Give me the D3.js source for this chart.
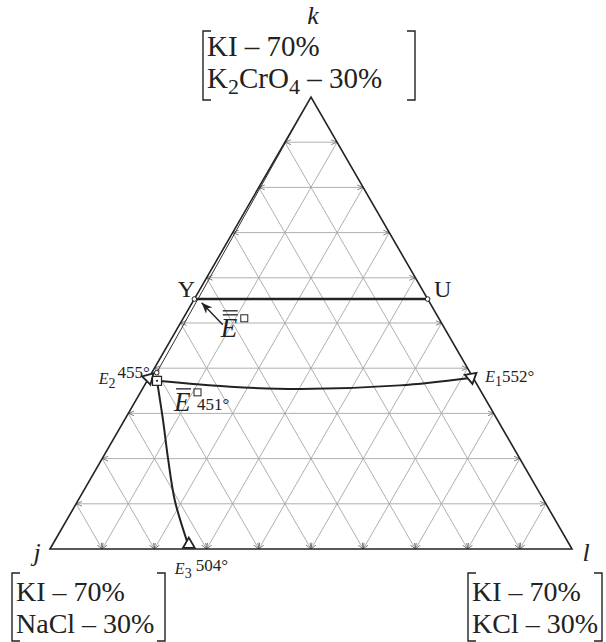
<!DOCTYPE html>
<html>
<head>
<meta charset="utf-8">
<script src="https://cdn.jsdelivr.net/npm/d3@7"></script>
<style>
  body { margin: 0; background: #fff; }
  svg text { font-family: "Liberation Serif", "DejaVu Serif", serif; fill: #222; }
</style>
</head>
<body>
<svg width="606" height="642"></svg>
<script>
// ternary values are [k, l] fractions, j = 1 - k - l
var gridLevels = [0.1, 0.2, 0.3, 0.4, 0.5, 0.6, 0.7, 0.8, 0.9];
var lineYU = [[0.553, 0], [0.553, 0.447]];
var innerEdge = [[1, 0], [0.39, 0.0094]];
var curveToE1 = [[0.372, 0.019], [0.359, 0.166], [0.354, 0.302], [0.362, 0.489], [0.378, 0.612]];
var curveToE3 = [[0.372, 0.019], [0.285, 0.074], [0.197, 0.128], [0.108, 0.185], [0.012, 0.258]];
var pointE1 = [0.38, 0.617];
var pointE2 = [0.378, 0];
var pointE3 = [0.008, 0.262];
var pointEbar = [0.372, 0.019];
var arrowEbb = [[0.496, 0.083], [0.545, 0.018]];
var cornerNames = ["j", "k", "l"];
var cornerMix = [["KI \u2013 70%", "NaCl \u2013 30%"], ["KI \u2013 70%", "K|2|CrO|4| \u2013 30%"], ["KI \u2013 70%", "KCl \u2013 30%"]];
var eutectics = [["2", "455\u00b0"], ["1", "552\u00b0"], ["3", "504\u00b0"]];

var svg = d3.select("svg");

var x = d3.scaleLinear().domain([0, 1]).range([50, 572]),
    y = d3.scaleLinear().domain([0, 1]).range([549, 97]);

function px(p) { return x(p[1] + p[0] / 2); }
function py(p) { return y(p[0]); }

var defs = svg.append("defs");
defs.append("marker")
    .attr("id", "tip")
    .attr("viewBox", "0 0 10 10")
    .attr("refX", 10).attr("refY", 5)
    .attr("markerWidth", 6).attr("markerHeight", 6)
    .attr("markerUnits", "userSpaceOnUse")
    .attr("orient", "auto-start-reverse")
    .append("path")
    .attr("d", "M0,1 L10,5 L0,9")
    .attr("fill", "none")
    .attr("stroke", "#555")
    .attr("stroke-width", 1.2);
defs.append("marker")
    .attr("id", "head")
    .attr("viewBox", "0 0 10 10")
    .attr("refX", 10).attr("refY", 5)
    .attr("markerWidth", 11).attr("markerHeight", 11)
    .attr("markerUnits", "userSpaceOnUse")
    .attr("orient", "auto")
    .append("path")
    .attr("d", "M0,1 L10,5 L0,9 L3,5 Z")
    .attr("fill", "#222");

var line = d3.line().x(px).y(py);
var curve = d3.line().x(px).y(py).curve(d3.curveCatmullRom);

// grid
var grid = svg.append("g").attr("stroke", "#a6a6a6").attr("stroke-width", 0.9).attr("fill", "none");
gridLevels.forEach(function(v) {
    // constant k (horizontal), arrows on both ends
    grid.append("path").attr("d", line([[v, 0], [v, 1 - v]]))
        .attr("marker-start", "url(#tip)").attr("marker-end", "url(#tip)");
    // constant l, arrow at bottom
    grid.append("path").attr("d", line([[1 - v, v], [0, v]]))
        .attr("marker-end", "url(#tip)");
    // constant j, arrow at bottom
    grid.append("path").attr("d", line([[1 - v, 0], [0, 1 - v]]))
        .attr("marker-end", "url(#tip)");
});

// triangle outline
svg.append("path")
    .attr("d", line([[0, 0], [1, 0], [0, 1]]) + "Z")
    .attr("fill", "none").attr("stroke", "#222").attr("stroke-width", 1.6);

svg.append("path").attr("d", line(innerEdge))
    .attr("fill", "none").attr("stroke", "#333").attr("stroke-width", 1);

svg.append("path").attr("d", line(lineYU))
    .attr("fill", "none").attr("stroke", "#222").attr("stroke-width", 2.4);

svg.append("path").attr("d", curve(curveToE1))
    .attr("fill", "none").attr("stroke", "#222").attr("stroke-width", 2);
svg.append("path").attr("d", curve(curveToE3))
    .attr("fill", "none").attr("stroke", "#222").attr("stroke-width", 2);

svg.append("path").attr("d", line(arrowEbb))
    .attr("fill", "none").attr("stroke", "#222").attr("stroke-width", 1.4)
    .attr("marker-end", "url(#head)");

// small circles
[lineYU[0], lineYU[1], innerEdge[1]].forEach(function(p) {
    svg.append("circle").attr("cx", px(p)).attr("cy", py(p)).attr("r", 2.3)
        .attr("fill", "#fff").attr("stroke", "#222").attr("stroke-width", 1);
});

var tri = d3.symbol().type(d3.symbolTriangle).size(60);
function triangle(p, angle, dy) {
    svg.append("path").attr("d", tri())
        .attr("transform", "translate(" + px(p) + "," + (py(p) + (dy || 0)) + ") rotate(" + angle + ")")
        .attr("fill", "#fff").attr("stroke", "#222").attr("stroke-width", 1.8);
}
triangle(pointE2, 165);
triangle(pointE1, 170);
triangle(pointE3, 0, -1);

// square with dot
svg.append("rect")
    .attr("x", px(pointEbar) - 4.5).attr("y", py(pointEbar) - 4.5)
    .attr("width", 9).attr("height", 9)
    .attr("fill", "#fff").attr("stroke", "#222").attr("stroke-width", 1.2);
svg.append("circle").attr("cx", px(pointEbar)).attr("cy", py(pointEbar)).attr("r", 1.1).attr("fill", "#222");

// point labels
function label(text, lx, ly, size, opts) {
    var t = svg.append("text").attr("x", lx).attr("y", ly).attr("font-size", size);
    if (opts && opts.italic) t.attr("font-style", "italic");
    if (opts && opts.anchor) t.attr("text-anchor", opts.anchor);
    t.text(text);
    return t;
}
function eLabel(e, lx, ly, gap, rise) {
    var t = svg.append("text").attr("x", lx).attr("y", ly).attr("font-size", 17);
    t.append("tspan").attr("font-style", "italic").attr("font-size", 16).text("E");
    t.append("tspan").attr("dy", 4).attr("font-size", 14).text(e[0]);
    t.append("tspan").attr("dx", gap).attr("dy", -4 - rise).text(e[1]);
}
eLabel(eutectics[0], px(pointE2) - 50, py(pointE2) + 6, 2, 6);
eLabel(eutectics[1], px(pointE1) + 14, py(pointE1) + 5, 0, 0);
eLabel(eutectics[2], px(pointE3) - 14, py(pointE3) + 29, 4, 3);

label("Y", px(lineYU[0]) - 8, py(lineYU[0]) - 2, 24, {anchor: "middle"});
label("U", px(lineYU[1]) + 15, py(lineYU[1]) - 2, 24, {anchor: "middle"});

// E with bars and small square
function eBar(lx, ly, bars, temp) {
    label("E", lx, ly, 27, {italic: true});
    for (var i = 0; i < bars; i++) {
        svg.append("line").attr("x1", lx + 2).attr("x2", lx + 17)
            .attr("y1", ly - 22 - i * 4).attr("y2", ly - 22 - i * 4)
            .attr("stroke", "#222").attr("stroke-width", 1.3);
    }
    svg.append("rect").attr("x", lx + 20).attr("y", ly - 22).attr("width", 7).attr("height", 7)
        .attr("fill", "none").attr("stroke", "#222").attr("stroke-width", 1);
    if (temp) label(temp, lx + 23, ly - 1, 17);
}
eBar(px(arrowEbb[0]) - 2, py(arrowEbb[0]) + 12, 2);
eBar(px(pointEbar) + 17, py(pointEbar) + 30, 1, "451\u00b0");

// corner labels and compositions
var corners = [
    {name: [37, 561], box: [12, 573, 165, 641], size: 28, sub: 20, base: 28, gap: 32},
    {name: [313, 24], box: [203, 31, 415, 100], size: 29, sub: 22, base: 25, gap: 32},
    {name: [586, 561], box: [468, 573, 602, 641], size: 28, sub: 20, base: 28, gap: 32}
];
corners.forEach(function(c, i) {
    label(cornerNames[i], c.name[0], c.name[1], 26, {italic: true, anchor: "middle"});
    var b = c.box;
    svg.append("path")
        .attr("d", "M" + (b[0] + 8) + "," + b[1] + "H" + b[0] + "V" + b[3] + "H" + (b[0] + 8) +
                   "M" + (b[2] - 8) + "," + b[1] + "H" + b[2] + "V" + b[3] + "H" + (b[2] - 8))
        .attr("fill", "none").attr("stroke", "#222").attr("stroke-width", 1.4);
    cornerMix[i].forEach(function(s, k) {
        var t = svg.append("text").attr("x", b[0] + 4).attr("y", b[1] + c.base + k * c.gap).attr("font-size", c.size);
        s.split("|").forEach(function(part, n) {
            if (n % 2) t.append("tspan").attr("dy", 6).attr("font-size", c.sub).text(part);
            else t.append("tspan").attr("dy", n ? -6 : 0).text(part);
        });
    });
});
</script>
</body>
</html>
